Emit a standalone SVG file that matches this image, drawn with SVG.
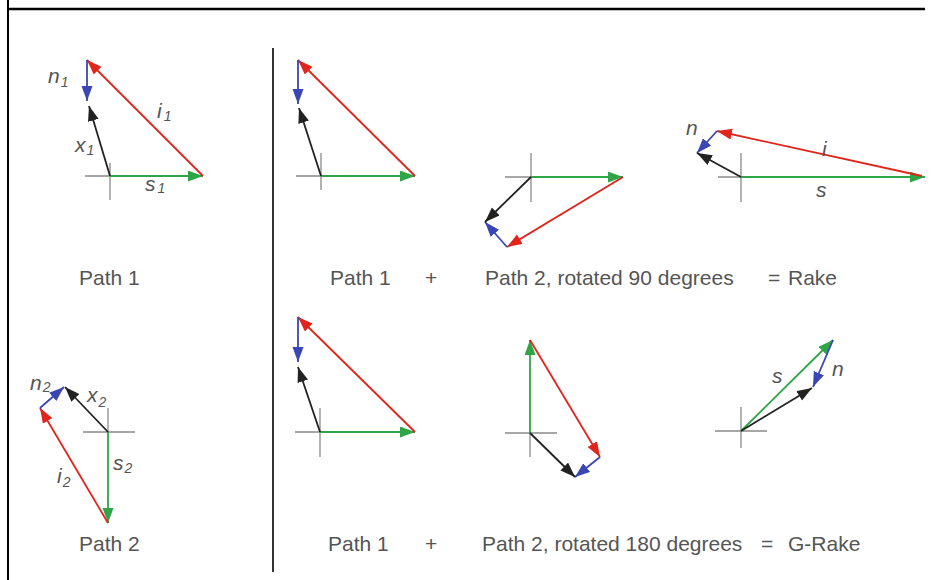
<svg xmlns="http://www.w3.org/2000/svg" width="933" height="580" viewBox="0 0 933 580">
<style>
.frame{stroke:#000;fill:none}
.cross{stroke:#8a8a8a;stroke-width:1.3;fill:none}
.v{stroke-width:1.8;fill:none}
.r{stroke:#e0261c;marker-end:url(#ar)}
.g{stroke:#2fa548;marker-end:url(#ag)}
.b{stroke:#3a46b4;marker-end:url(#ab)}
.k{stroke:#222;marker-end:url(#ak)}
.lbl{font-family:"Liberation Sans",Arial,sans-serif;font-style:italic;font-size:21px;fill:#555}
.sub{font-size:14px}
.cap{font-family:"Liberation Sans",Arial,sans-serif;font-size:21px;fill:#555}
</style>
<defs>
<marker id="ar" markerUnits="userSpaceOnUse" markerWidth="17" markerHeight="13" refX="15" refY="5.5" orient="auto"><path d="M0,0 L15,5.5 L0,11 z" fill="#e0261c"/></marker>
<marker id="ag" markerUnits="userSpaceOnUse" markerWidth="17" markerHeight="13" refX="15" refY="5.5" orient="auto"><path d="M0,0 L15,5.5 L0,11 z" fill="#2fa548"/></marker>
<marker id="ab" markerUnits="userSpaceOnUse" markerWidth="17" markerHeight="13" refX="15" refY="5.5" orient="auto"><path d="M0,0 L15,5.5 L0,11 z" fill="#3a46b4"/></marker>
<marker id="ak" markerUnits="userSpaceOnUse" markerWidth="17" markerHeight="13" refX="15" refY="5.5" orient="auto"><path d="M0,0 L15,5.5 L0,11 z" fill="#222"/></marker>
</defs>
<rect width="933" height="580" fill="#fff"/>
<g id="frame">
<line class="frame" x1="8" y1="0" x2="8" y2="580" stroke-width="2"/>
<line class="frame" x1="8" y1="9" x2="925" y2="9" stroke-width="2.6"/>
<line class="frame" x1="273" y1="48" x2="273" y2="572" stroke-width="1.6" stroke="#333"/>
</g>
<g id="connectors">
<g id="path1">
<path class="cross" d="M85,176 H110 M110,163 V200"/>
<line class="v g" x1="110" y1="176" x2="203" y2="176"/>
<line class="v r" x1="203" y1="176" x2="87" y2="60"/>
<line class="v b" x1="87" y1="60" x2="87" y2="101"/>
<line class="v k" x1="110" y1="176" x2="89" y2="106"/>
</g>
<g id="path2">
<path class="cross" d="M83,432 H135 M108,408 V432"/>
<line class="v g" x1="108" y1="432" x2="108" y2="523"/>
<line class="v r" x1="108" y1="523" x2="40" y2="408"/>
<line class="v b" x1="40" y1="408" x2="64" y2="387"/>
<line class="v k" x1="108" y1="432" x2="65" y2="387"/>
</g>
<g id="p1top">
<path class="cross" d="M296,176 H321 M321,153 V190"/>
<line class="v g" x1="321" y1="176" x2="415" y2="176"/>
<line class="v r" x1="415" y1="176" x2="298" y2="60"/>
<line class="v b" x1="298" y1="60" x2="298" y2="104"/>
<line class="v k" x1="321" y1="176" x2="299" y2="108"/>
</g>
<g id="p2rot90">
<path class="cross" d="M505,177 H531 M531,153 V202"/>
<line class="v g" x1="531" y1="177" x2="623" y2="177"/>
<line class="v r" x1="623" y1="177" x2="507" y2="247"/>
<line class="v b" x1="507" y1="247" x2="485" y2="222"/>
<line class="v k" x1="531" y1="177" x2="485" y2="222"/>
</g>
<g id="rake">
<path class="cross" d="M718,177 H741 M741,153 V202"/>
<line class="v g" x1="741" y1="177" x2="925" y2="177"/>
<line class="v r" x1="922" y1="176" x2="717" y2="131"/>
<line class="v b" x1="717" y1="131" x2="697" y2="153"/>
<line class="v k" x1="741" y1="177" x2="697" y2="153"/>
</g>
<g id="p1bot">
<path class="cross" d="M295,432 H320 M320,408 V457"/>
<line class="v g" x1="320" y1="432" x2="415" y2="432"/>
<line class="v r" x1="415" y1="432" x2="298" y2="317"/>
<line class="v b" x1="298" y1="317" x2="298" y2="362"/>
<line class="v k" x1="320" y1="432" x2="298" y2="367"/>
</g>
<g id="p2rot180">
<path class="cross" d="M505,433 H557 M530,433 V457"/>
<line class="v g" x1="530" y1="433" x2="530" y2="340"/>
<line class="v r" x1="530" y1="340" x2="600" y2="457"/>
<line class="v b" x1="600" y1="457" x2="575" y2="477"/>
<line class="v k" x1="530" y1="433" x2="575" y2="477"/>
</g>
<g id="grake">
<path class="cross" d="M715,431 H767 M741,407 V448"/>
<line class="v g" x1="741" y1="431" x2="833" y2="340"/>
<line class="v b" x1="833" y1="340" x2="813" y2="387"/>
<line class="v k" x1="741" y1="431" x2="812" y2="388"/>
</g>
</g>
<g id="labels">
<text class="lbl" x="48" y="83">n<tspan class="sub" dx="1" dy="4">1</tspan></text>
<text class="lbl" x="75" y="152">x<tspan class="sub" dx="1" dy="3">1</tspan></text>
<text class="lbl" x="157" y="118">i<tspan class="sub" dx="2" dy="3">1</tspan></text>
<text class="lbl" x="145" y="191">s<tspan class="sub" dx="2" dy="2">1</tspan></text>
<text class="lbl" x="30" y="390">n<tspan class="sub" dx="1" dy="2">2</tspan></text>
<text class="lbl" x="87" y="402">x<tspan class="sub" dx="1" dy="5">2</tspan></text>
<text class="lbl" x="113" y="470">s<tspan class="sub" dx="1" dy="3">2</tspan></text>
<text class="lbl" x="57" y="483">i<tspan class="sub" dx="1" dy="4">2</tspan></text>
<text class="lbl" x="686" y="135">n</text>
<text class="lbl" x="822" y="156">i</text>
<text class="lbl" x="816" y="197">s</text>
<text class="lbl" x="772" y="383">s</text>
<text class="lbl" x="832" y="376">n</text>
<text class="cap" x="79" y="285">Path 1</text>
<text class="cap" x="330" y="285">Path 1</text>
<text class="cap" x="425" y="285">+</text>
<text class="cap" x="485" y="285">Path 2, rotated 90 degrees</text>
<text class="cap" x="768" y="285">=</text>
<text class="cap" x="788" y="285">Rake</text>
<text class="cap" x="79" y="551">Path 2</text>
<text class="cap" x="328" y="551">Path 1</text>
<text class="cap" x="425" y="551">+</text>
<text class="cap" x="482" y="551">Path 2, rotated 180 degrees</text>
<text class="cap" x="761" y="551">=</text>
<text class="cap" x="788" y="551">G-Rake</text>
</g>
</svg>
